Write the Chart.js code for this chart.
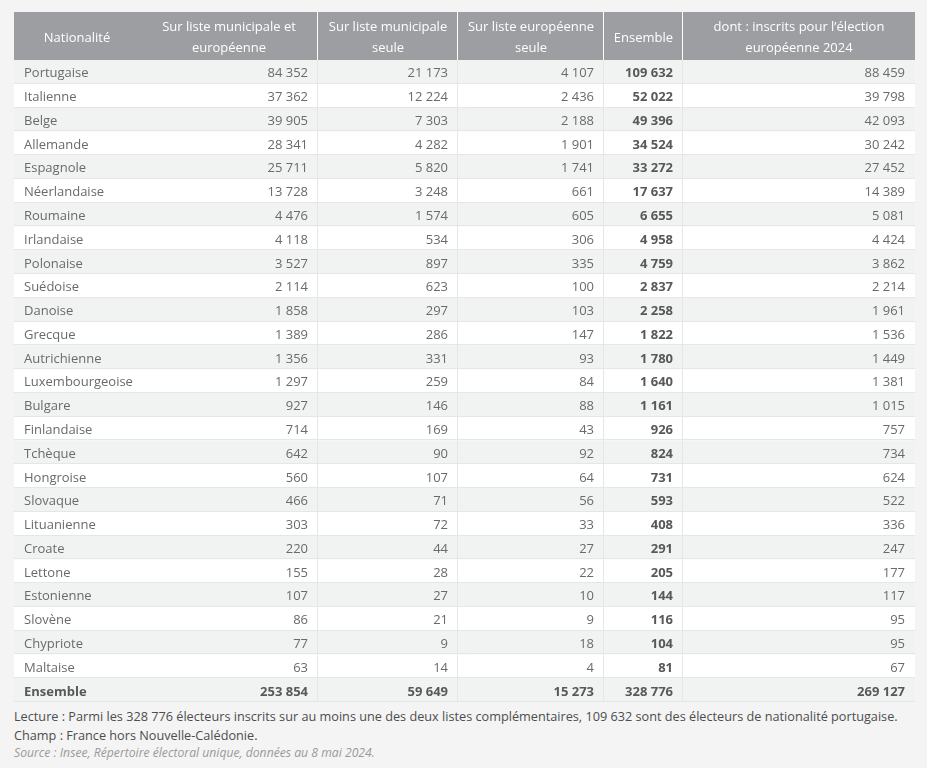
<!DOCTYPE html>
<html lang="fr">
<head>
<meta charset="utf-8">
<script src="https://cdn.jsdelivr.net/npm/chart.js@4/dist/chart.umd.min.js"></script>
<style>
  html, body { margin: 0; padding: 0; background: #f4f4f4; }
  body { width: 927px; height: 768px; position: relative; overflow: hidden; font-family: "Open Sans", sans-serif; }
  #wrap { position: absolute; left: 0; top: 0; width: 927px; height: 705px; }
  #notes { position: absolute; left: 14px; top: 707px; font-size: 12.7px; line-height: 18.5px; color: #4d4d4d; white-space: nowrap; }
  #notes .src { font-style: italic; color: #9a9a9a; font-size: 12.2px; }
</style>
</head>
<body>
<div id="wrap"><canvas id="c" width="927" height="705"></canvas></div>
<div id="notes">
  <div>Lecture : Parmi les 328 776 électeurs inscrits sur au moins une des deux listes complémentaires, 109 632 sont des électeurs de nationalité portugaise.</div>
  <div>Champ : France hors Nouvelle-Calédonie.</div>
  <div class="src">Source : Insee, Répertoire électoral unique, données au 8 mai 2024.</div>
</div>
<script>
// ---- Data ----
const nationalites = ["Portugaise","Italienne","Belge","Allemande","Espagnole","Néerlandaise","Roumaine","Irlandaise","Polonaise","Suédoise","Danoise","Grecque","Autrichienne","Luxembourgeoise","Bulgare","Finlandaise","Tchèque","Hongroise","Slovaque","Lituanienne","Croate","Lettone","Estonienne","Slovène","Chypriote","Maltaise"];
const totalLabel = "Ensemble";
const columnHeaders = [
  ["Nationalité"],
  ["Sur liste municipale et", "européenne"],
  ["Sur liste municipale", "seule"],
  ["Sur liste européenne", "seule"],
  ["Ensemble"],
  ["dont : inscrits pour l’élection", "européenne 2024"]
];
const listeMunicipaleEtEuropeenne = [84352,37362,39905,28341,25711,13728,4476,4118,3527,2114,1858,1389,1356,1297,927,714,642,560,466,303,220,155,107,86,77,63];
const listeMunicipaleSeule = [21173,12224,7303,4282,5820,3248,1574,534,897,623,297,286,331,259,146,169,90,107,71,72,44,28,27,21,9,14];
const listeEuropeenneSeule = [4107,2436,2188,1901,1741,661,605,306,335,100,103,147,93,84,88,43,92,64,56,33,27,22,10,9,18,4];
const ensemble = [109632,52022,49396,34524,33272,17637,6655,4958,4759,2837,2258,1822,1780,1640,1161,926,824,731,593,408,291,205,144,116,104,81];
const inscritsEuropeenne2024 = [88459,39798,42093,30242,27452,14389,5081,4424,3862,2214,1961,1536,1449,1381,1015,757,734,624,522,336,247,177,117,95,95,67];
const totaux = [253854,59649,15273,328776,269127];

// ---- Layout (table units along x scale) ----
const columnEdges = [0,126,304,444,590,669,901];

function fmt(n) {
  return String(n).replace(/\B(?=(\d{3})+(?!\d))/g, " ");
}

const rowLabels = nationalites.concat([totalLabel]);
const seriesList = [listeMunicipaleEtEuropeenne, listeMunicipaleSeule, listeEuropeenneSeule, ensemble, inscritsEuropeenne2024];

const tablePlugin = {
  id: "tableCells",
  beforeDatasetsDraw(chart, args, opts) {
    const ctx = chart.ctx;
    const xs = chart.scales.x, ys = chart.scales.y;
    const X = v => xs.getPixelForValue(v);
    const n = chart.data.labels.length;
    const band = (ys.bottom - ys.top) / n;
    const left = X(columnEdges[0]), right = X(columnEdges[columnEdges.length - 1]);
    ctx.save();
    ctx.fillStyle = opts.headerBg;
    ctx.fillRect(left, ys.top - opts.headerHeight, right - left, opts.headerHeight);
    for (let i = 0; i < n; i++) {
      const yc = ys.getPixelForValue(i);
      ctx.fillStyle = i % 2 === 0 ? opts.stripe : "#ffffff";
      ctx.fillRect(left, yc - band / 2, right - left, band);
    }
    ctx.strokeStyle = opts.gridColor;
    ctx.lineWidth = 1;
    for (let i = 0; i < n; i++) {
      const yb = Math.round(ys.getPixelForValue(i) + band / 2) - 0.5;
      ctx.beginPath(); ctx.moveTo(left, yb); ctx.lineTo(right, yb); ctx.stroke();
    }
    for (let k = 2; k < columnEdges.length - 1; k++) {
      const x = Math.round(X(columnEdges[k])) - 0.5;
      ctx.strokeStyle = opts.gridColor;
      ctx.beginPath(); ctx.moveTo(x, ys.top); ctx.lineTo(x, ys.bottom); ctx.stroke();
      ctx.strokeStyle = "#ffffff";
      ctx.beginPath(); ctx.moveTo(x, ys.top - opts.headerHeight); ctx.lineTo(x, ys.top); ctx.stroke();
    }
    ctx.restore();
  },
  afterDatasetsDraw(chart, args, opts) {
    const ctx = chart.ctx;
    const xs = chart.scales.x, ys = chart.scales.y;
    const X = v => xs.getPixelForValue(v);
    const n = chart.data.labels.length;
    ctx.save();
    ctx.textBaseline = "middle";
    ctx.fillStyle = "#ffffff";
    ctx.font = opts.headerFont;
    ctx.textAlign = "center";
    const hTop = ys.top - opts.headerHeight;
    columnHeaders.forEach((lines, k) => {
      const xc = (X(columnEdges[k]) + X(columnEdges[k + 1])) / 2;
      if (lines.length === 1) {
        ctx.fillText(lines[0], xc, hTop + opts.headerHeight / 2 + 2);
      } else {
        ctx.fillText(lines[0], xc, hTop + 15);
        ctx.fillText(lines[1], xc, hTop + 36.5);
      }
    });
    for (let i = 0; i < n; i++) {
      const yc = ys.getPixelForValue(i) + 1.7;
      const isTotal = i === n - 1;
      ctx.textAlign = "left";
      ctx.font = isTotal ? opts.boldFont : opts.font;
      ctx.fillStyle = isTotal ? opts.boldColor : opts.textColor;
      ctx.fillText(chart.data.labels[i], X(columnEdges[0]) + opts.pad, yc);
      ctx.textAlign = "right";
      chart.data.datasets.forEach((ds, j) => {
        const bold = isTotal || ds.bold;
        ctx.font = bold ? opts.boldFont : opts.font;
        ctx.fillStyle = bold ? opts.boldColor : opts.textColor;
        ctx.fillText(fmt(ds.data[i]), X(columnEdges[j + 2]) - opts.pad, yc);
      });
    }
    ctx.restore();
  }
};

const datasets = seriesList.map((s, j) => ({
  label: columnHeaders[j + 1].join(" "),
  data: s.concat([totaux[j]]),
  bold: j === 3,
  xAxisID: "xv",
  backgroundColor: "rgba(0,0,0,0)",
  borderWidth: 0
}));

new Chart(document.getElementById("c"), {
  type: "bar",
  data: { labels: rowLabels, datasets },
  plugins: [tablePlugin],
  options: {
    responsive: false,
    animation: false,
    indexAxis: "y",
    layout: { padding: { left: 14, right: 12, top: 60, bottom: 3 } },
    scales: {
      x: { type: "linear", min: columnEdges[0], max: columnEdges[columnEdges.length - 1], display: false },
      xv: { type: "linear", min: 0, display: false },
      y: { type: "category", offset: true, display: false }
    },
    plugins: {
      legend: { display: false },
      tooltip: { enabled: false },
      tableCells: {
        headerHeight: 48,
        headerBg: "#9d9ea2",
        stripe: "#f1f2f2",
        gridColor: "#e5e6e6",
        font: '13px "Open Sans"',
        boldFont: 'bold 13px "Open Sans"',
        headerFont: '500 13px "Open Sans"',
        textColor: "#6a6a6a",
        boldColor: "#585858",
        pad: 10
      }
    }
  }
});
</script>
</body>
</html>
